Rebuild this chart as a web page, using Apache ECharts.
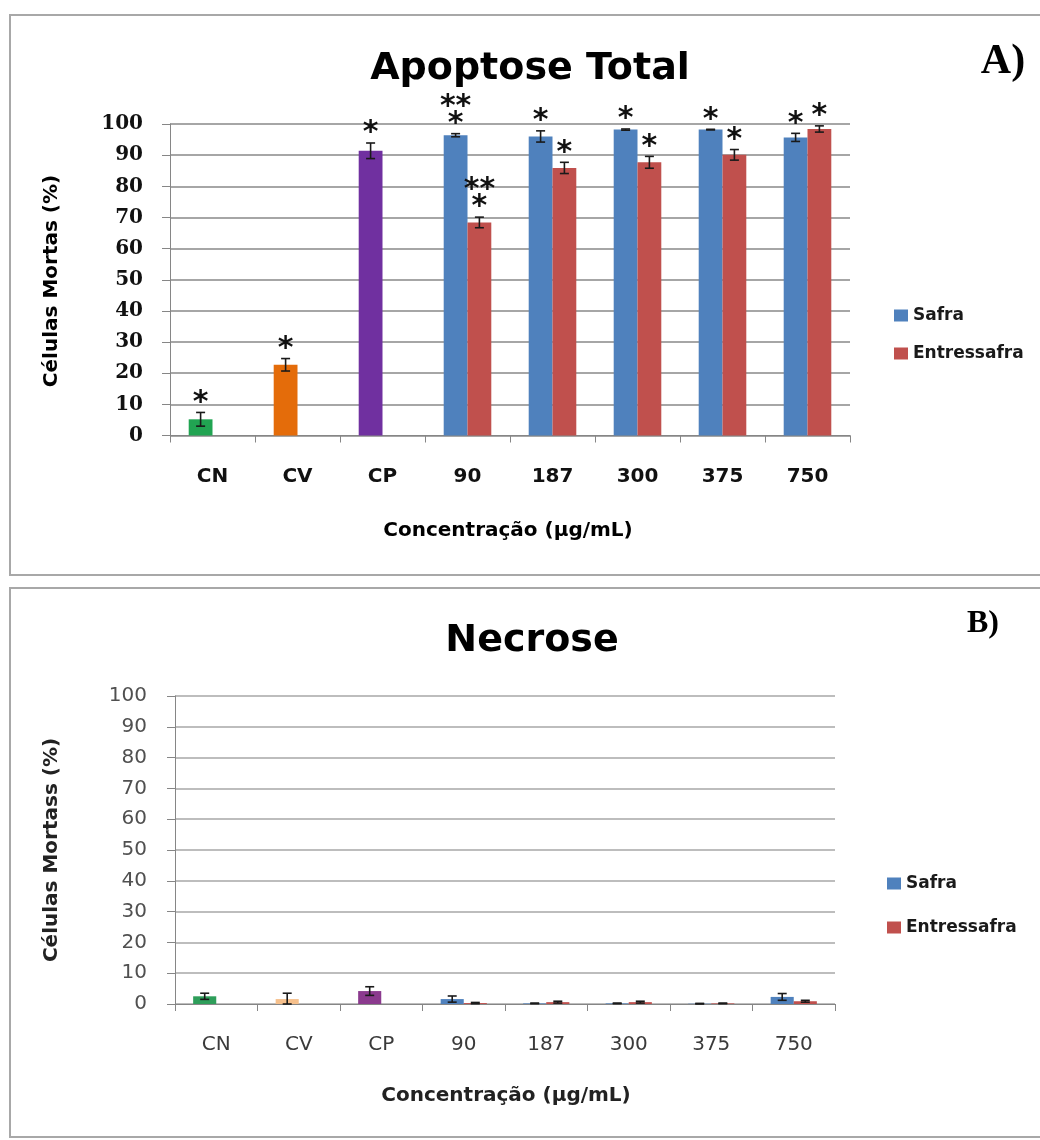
<!DOCTYPE html>
<html><head><meta charset="utf-8">
<script src="https://cdn.jsdelivr.net/npm/echarts@6/dist/echarts.min.js"></script>
<style>html,body{margin:0;padding:0;background:#fff}#c{width:1040px;height:1140px}</style>
</head><body><div id="c"></div>
<script>
// ---------- data ----------
const categories = ['CN', 'CV', 'CP', '90', '187', '300', '375', '750'];
const yTickValues = [0, 10, 20, 30, 40, 50, 60, 70, 80, 90, 100];

// A) Apoptose Total
const apoSafra      = [5.2, 22.7, 91.4, 96.4, 96.0, 98.2, 98.2, 95.7];
const apoSafraErr   = [2.2, 2.0, 2.5, 0.5, 1.8, 0.2, 0.1, 1.3];
const apoEntre      = [null, null, null, 68.4, 85.9, 87.7, 90.1, 98.4];
const apoEntreErr   = [null, null, null, 1.7, 1.8, 1.9, 1.7, 1.0];
const apoSafraSig   = ['*', '*', '*', '**|*', '*', '*', '*', '*'];
const apoEntreSig   = ['', '', '', '**|*', '*', '*', '*', '*'];

// B) Necrose
const necSafra      = [2.5, 1.6, 4.2, 1.6, 0.2, 0.2, 0.1, 2.3];
const necSafraErr   = [1.0, 1.9, 1.4, 1.0, 0.1, 0.1, 0.1, 1.1];
const necEntre      = [null, null, null, 0.3, 0.6, 0.6, 0.2, 0.9];
const necEntreErr   = [null, null, null, 0.2, 0.3, 0.3, 0.1, 0.3];

// ---------- styles ----------
const C_SAFRA = '#4F81BD', C_ENTRE = '#C0504D';
const apoPointColors = ['#21A452', '#E46C0A', '#7030A0'];
const necPointColors = ['#2E9E5A', '#F6C08C', '#8B3A8E'];
const GAP = 0.44;
const SANS = 'DejaVu Sans';

function barData(vals, colors) {
  return vals.map((v, i) => (v == null ? '-' : (colors[i] ? { value: v, itemStyle: { color: colors[i] } } : v)));
}
function errData(vals, errs) {
  const out = [];
  vals.forEach((v, i) => { if (v != null) out.push([i, v, errs[i]]); });
  return out;
}
function makeErr(side, sig) {
  return function (params, api) {
    const i = api.value(0), v = api.value(1), e = api.value(2);
    const band = api.size([1, 0])[0];
    const bw = band * (1 - GAP) / 2;
    const cx = api.coord([i, v])[0] + side * bw / 2;
    const yTop = api.coord([i, v + e])[1];
    const yBot = api.coord([i, Math.max(v - e, 0)])[1];
    const cap = 4.5;
    const st = { stroke: '#1a1a1a', lineWidth: 1.6 };
    const children = [
      { type: 'line', shape: { x1: cx, y1: yTop, x2: cx, y2: yBot }, style: st },
      { type: 'line', shape: { x1: cx - cap, y1: yTop, x2: cx + cap, y2: yTop }, style: st },
      { type: 'line', shape: { x1: cx - cap, y1: yBot, x2: cx + cap, y2: yBot }, style: st }
    ];
    if (sig && sig[i]) {
      const lines = sig[i].split('|').reverse();
      lines.forEach((t, k) => {
        children.push({
          type: 'text',
          style: {
            text: t, x: cx, y: yTop - 18 - 17 * k + 8.5,
            align: 'center', verticalAlign: 'middle',
            font: 'bold 30px "DejaVu Sans"', fill: '#111'
          }
        });
      });
    }
    return { type: 'group', children };
  };
}

const chart = echarts.init(document.getElementById('c'), null, { renderer: 'canvas' });

function xAxisCfg(gi, bold) {
  return {
    type: 'category', gridIndex: gi, data: categories,
    axisLine: { lineStyle: { color: '#868686', width: 1 } },
    axisTick: { show: true, length: 7, lineStyle: { color: '#868686' } },
    axisLabel: {
      margin: 31, fontFamily: SANS, fontSize: 20,
      fontWeight: bold ? 'bold' : 'normal', color: bold ? '#111' : '#3a3a3a'
    },
    splitLine: { show: false }
  };
}
function yAxisCfg(gi, top) {
  return {
    type: 'value', gridIndex: gi,
    min: yTickValues[0], max: yTickValues[yTickValues.length - 1],
    interval: yTickValues[1] - yTickValues[0],
    axisLine: { show: true, lineStyle: { color: '#868686', width: 1 } },
    axisTick: { show: true, length: 8, lineStyle: { color: '#868686' } },
    axisLabel: top
      ? { margin: 27, fontFamily: 'DejaVu Serif', fontWeight: 'bold', fontSize: 20, color: '#111' }
      : { margin: 28, fontFamily: SANS, fontSize: 20, color: '#505050' },
    splitLine: { show: true, lineStyle: { color: top ? '#A6A6A6' : '#BDBDBD', width: 2 } }
  };
}
function legendCfg(left, top, gap) {
  return {
    orient: 'vertical', left: left, top: top, icon: 'rect',
    itemWidth: 14, itemHeight: 12, itemGap: gap,
    data: ['Safra', 'Entressafra'],
    textStyle: { fontFamily: SANS, fontWeight: 'bold', fontSize: 17, color: '#1a1a1a' }
  };
}
function txt(text, x, y, font, rot, fill) {
  return {
    type: 'text', x: x, y: y, rotation: rot || 0,
    style: { text: text, font: font, fill: fill || '#000', align: 'center', verticalAlign: 'middle' }
  };
}

chart.setOption({
  animation: false,
  backgroundColor: '#fff',
  grid: [
    { left: 170, top: 124, width: 680, height: 311.5 },
    { left: 175, top: 696, width: 660, height: 308 }
  ],
  xAxis: [xAxisCfg(0, true), xAxisCfg(1, false)],
  yAxis: [yAxisCfg(0, true), yAxisCfg(1, false)],
  legend: [legendCfg(889, 302, 21), legendCfg(882, 870, 27)],
  graphic: [
    { type: 'rect', shape: { x: 10, y: 15, width: 1040, height: 560 }, style: { fill: 'none', stroke: '#A8A8A8', lineWidth: 2 } },
    { type: 'rect', shape: { x: 10, y: 588, width: 1040, height: 549 }, style: { fill: 'none', stroke: '#A8A8A8', lineWidth: 2 } },
    txt('Apoptose Total', 530, 69, 'bold 38px "DejaVu Sans"'),
    txt('A)', 1003, 62, 'bold 42px "Liberation Serif"'),
    txt('Células Mortas (%)', 52, 281, 'bold 20px "DejaVu Sans"', Math.PI / 2),
    txt('Concentração (µg/mL)', 508, 531, 'bold 20px "DejaVu Sans"'),
    txt('Necrose', 532, 641, 'bold 38px "DejaVu Sans"'),
    txt('B)', 983, 624, 'bold 32px "Liberation Serif"'),
    txt('Células Mortass (%)', 52, 850, 'bold 20px "DejaVu Sans"', Math.PI / 2, '#222'),
    txt('Concentração (µg/mL)', 506, 1096, 'bold 20px "DejaVu Sans"', 0, '#222')
  ],
  series: [
    { name: 'Safra', type: 'bar', xAxisIndex: 0, yAxisIndex: 0, barGap: '0%', barCategoryGap: (GAP * 100) + '%',
      itemStyle: { color: C_SAFRA }, data: barData(apoSafra, apoPointColors) },
    { name: 'Entressafra', type: 'bar', xAxisIndex: 0, yAxisIndex: 0, barGap: '0%', barCategoryGap: (GAP * 100) + '%',
      itemStyle: { color: C_ENTRE }, data: barData(apoEntre, []) },
    { name: 'errApoS', type: 'custom', xAxisIndex: 0, yAxisIndex: 0, clip: false, z: 5,
      renderItem: makeErr(-1, apoSafraSig), data: errData(apoSafra, apoSafraErr) },
    { name: 'errApoE', type: 'custom', xAxisIndex: 0, yAxisIndex: 0, clip: false, z: 5,
      renderItem: makeErr(1, apoEntreSig), data: errData(apoEntre, apoEntreErr) },

    { name: 'Safra', type: 'bar', xAxisIndex: 1, yAxisIndex: 1, barGap: '0%', barCategoryGap: (GAP * 100) + '%',
      itemStyle: { color: C_SAFRA }, data: barData(necSafra, necPointColors) },
    { name: 'Entressafra', type: 'bar', xAxisIndex: 1, yAxisIndex: 1, barGap: '0%', barCategoryGap: (GAP * 100) + '%',
      itemStyle: { color: C_ENTRE }, data: barData(necEntre, []) },
    { name: 'errNecS', type: 'custom', xAxisIndex: 1, yAxisIndex: 1, clip: false, z: 5,
      renderItem: makeErr(-1, null), data: errData(necSafra, necSafraErr) },
    { name: 'errNecE', type: 'custom', xAxisIndex: 1, yAxisIndex: 1, clip: false, z: 5,
      renderItem: makeErr(1, null), data: errData(necEntre, necEntreErr) }
  ]
});
</script></body></html>
